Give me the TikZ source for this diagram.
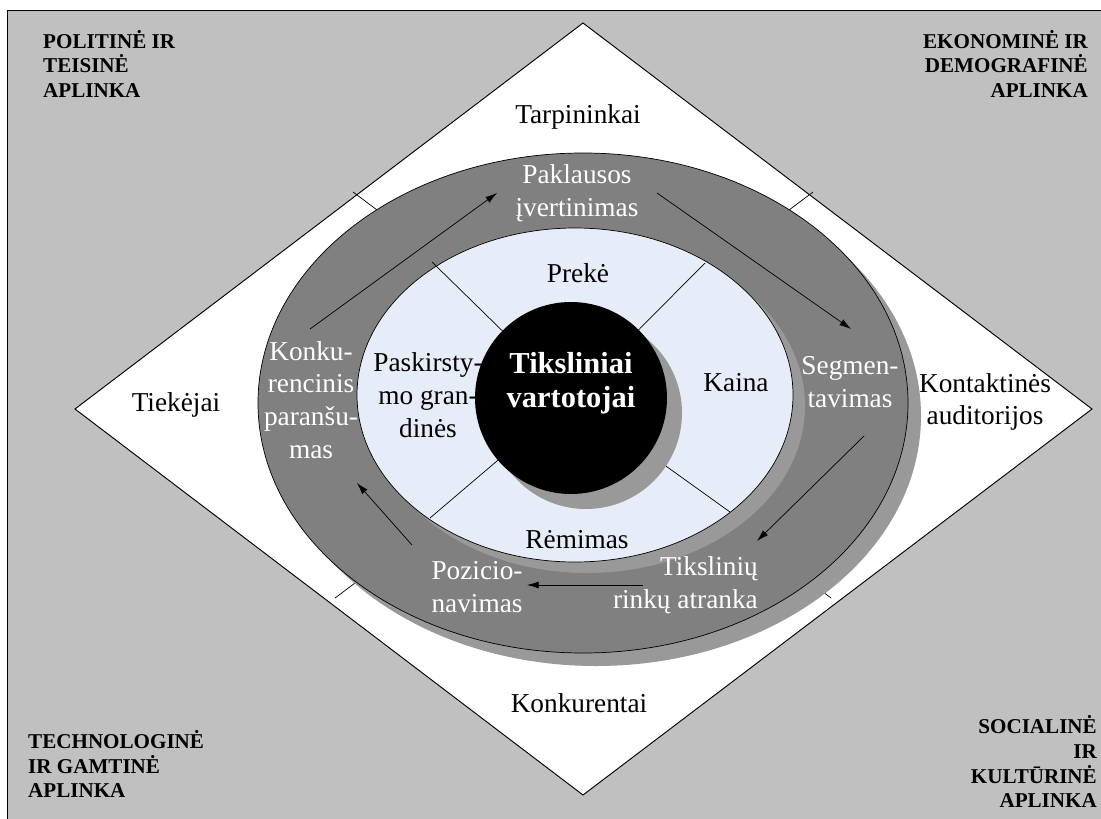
\documentclass[tikz,border=0pt]{standalone}
\usepackage{fontspec}
\setmainfont{Liberation Serif}
\usetikzlibrary{arrows.meta}
\definecolor{bggray}{RGB}{192,192,192}
\definecolor{ringgray}{RGB}{128,128,128}
\definecolor{shadegray}{RGB}{153,153,153}
\definecolor{innerblue}{RGB}{231,237,248}

\begin{document}
\begin{tikzpicture}[
      x=0.03cm, y=-0.03cm,
      rim/.style={draw=black, line width=0.6pt},
      lab/.style={font=\fontsize{23.3}{28}\selectfont, align=center, inner sep=0pt},
      wlab/.style={lab, text=white},
      corner/.style={font=\bfseries\fontsize{18}{21}\selectfont, inner sep=0pt},
      flow/.style={-{Latex[length=10pt,width=6pt]}, line width=0.6pt}
    ]
      \useasboundingbox (0,0) rectangle (1101,819);
      % environment frame
      \fill[bggray] (7,10) rectangle (1101,819);
      \draw[line width=0.8pt] (7,819) -- (7,10) -- (1101,10);
      \draw[fill=white, line width=0.8pt] (583,23) -- (1092,409) -- (583,795) -- (75,409) -- cycle;
      \draw[rim] (353,192) -- (377,210);
      \draw[rim] (813,192) -- (789,210);
      \draw[rim] (335,598) -- (355,583);
      \draw[rim] (831,598) -- (811,583);
      % marketing rings
      \fill[shadegray] (596,416) ellipse [x radius=325, y radius=250];
      \draw[rim, fill=ringgray] (583,403) ellipse [x radius=325, y radius=250];
      \fill[shadegray] (587,406) ellipse [x radius=218, y radius=167];
      \draw[rim, fill=innerblue] (575,395) ellipse [x radius=218, y radius=167];
      \draw[rim] (571,398) -- (432,262);
      \draw[rim] (571,398) -- (705,263);
      \draw[rim] (571,398) -- (430,518);
      \draw[rim] (571,398) -- (730,512);
      \fill[shadegray] (586,413) circle [radius=96];
      \fill[black] (571,398) circle [radius=96];

      \node[corner, align=left, anchor=north west] (polit) at (43,30) {POLITINĖ IR\\TEISINĖ\\APLINKA};
      \node[corner, align=right, anchor=north east] (ekon) at (1088,30) {EKONOMINĖ IR\\DEMOGRAFINĖ\\APLINKA};
      \node[corner, align=left, anchor=south west] (techn) at (28,798) {TECHNOLOGINĖ\\IR GAMTINĖ\\APLINKA};
      \node[corner, align=right, anchor=south east] (soc) at (1097,808) {SOCIALINĖ\\IR\\KULTŪRINĖ\\APLINKA};

      \node[lab] (tarp) at (578,117) {Tarpininkai};
      \node[lab] (tiek) at (176,405) {Tiekėjai};
      \node[lab] (kont) at (985,402) {Kontaktinės\\auditorijos};
      \node[lab] (konkur) at (579,703) {Konkurentai};

      \node[wlab] (pakl) at (577,193) {Paklausos\\įvertinimas};
      \node[wlab] (segm) at (850,382) {Segmen-\\tavimas};
      \node[wlab, align=right, anchor=east] (tiksl) at (758,585) {Tikslinių\\rinkų atranka};
      \node[wlab] (pozic) at (477,587) {Pozicio-\\navimas};
      \node[wlab] (konku) at (311,400) {Konku-\\rencinis\\paranšu-\\mas};

      \node[lab] (preke) at (578,273) {Prekė};
      \node[lab] (kaina) at (736,383) {Kaina};
      \node[lab] (remim) at (577,540) {Rėmimas};
      \node[lab] (pask) at (428,395) {Paskirsty-\\mo gran-\\dinės};
      \node[lab, text=white, font=\bfseries\fontsize{26}{29}\selectfont] (tiksv) at (571,383) {Tiksliniai\\vartotojai};

      \coordinate (konku-out) at (310,329);
      \coordinate (pakl-in) at (497,193);
      \coordinate (pakl-out) at (657,193);
      \coordinate (segm-in) at (851,329);
      \coordinate (segm-out) at (864,436);
      \coordinate (tiksl-in) at (757,541);
      \coordinate (tiksl-out) at (643,585);
      \coordinate (pozic-in) at (527,585);
      \coordinate (pozic-out) at (412,545);
      \coordinate (konku-in) at (357,483);
      \draw[flow] (konku-out) -- (pakl-in);
      \draw[flow] (pakl-out) -- (segm-in);
      \draw[flow] (segm-out) -- (tiksl-in);
      \draw[flow] (tiksl-out) -- (pozic-in);
      \draw[flow] (pozic-out) -- (konku-in);
    \end{tikzpicture}
\end{document}
